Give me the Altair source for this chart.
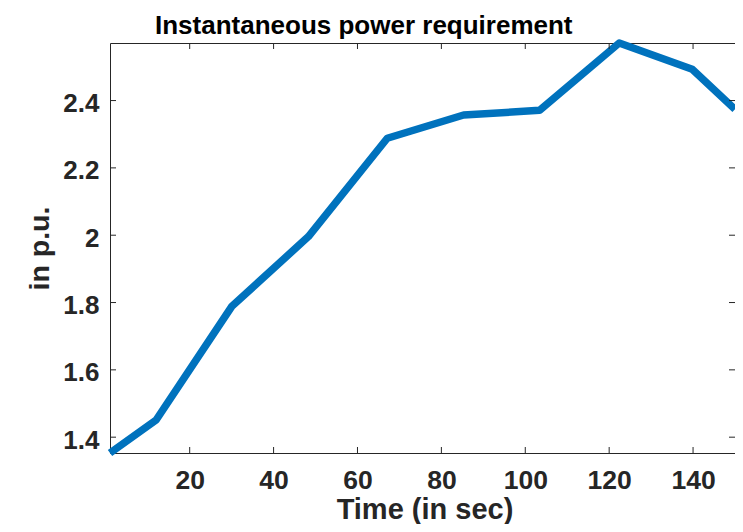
import altair as alt
import pandas as pd

# ---- data ----
time_s = [1, 12, 30, 48.3, 67.1, 85.3, 103.4, 122.4, 139.8, 150]
power_pu = [1.353, 1.451, 1.788, 1.996, 2.288, 2.357, 2.371, 2.571, 2.493, 2.374]
x_ticks = [20, 40, 60, 80, 100, 120, 140]
y_ticks = [1.4, 1.6, 1.8, 2.0, 2.2, 2.4]
x_domain = [1, 150]
y_domain = [1.353, 2.571]

W, H = 625, 410
FONT = "Liberation Sans"
INK = "#262626"
LINE = "#0072BD"

df = pd.DataFrame({"t": time_s, "p": power_pu})
xt = pd.DataFrame({"t": x_ticks})
yt = pd.DataFrame({"p": y_ticks})

xs = alt.Scale(domain=x_domain, nice=False, zero=False)
ys = alt.Scale(domain=y_domain, nice=False, zero=False)

x_axis = alt.Axis(
    values=x_ticks, title="Time (in sec)", domain=False, ticks=False, tickSize=0,
    grid=False, labelPadding=35, labelBaseline="alphabetic", labelFont=FONT,
    labelFontSize=26.5, labelFontWeight="bold", labelColor=INK, labelFlush=False,
    labelOverlap=False, titleFont=FONT, titleFontSize=29, titleFontWeight="bold",
    titleColor=INK, titleBaseline="alphabetic", titleY=65, titleX=W / 2 + 2,
    titleAlign="center",
)
y_axis = alt.Axis(
    values=y_ticks, format="~g", title="in p.u.", domain=False, ticks=False,
    tickSize=0, grid=False, labelPadding=11, labelBaseline="middle", labelOffset=3,
    labelFont=FONT, labelFontSize=26, labelFontWeight="bold", labelColor=INK,
    labelFlush=False, labelOverlap=False, titleFont=FONT, titleFontSize=28.5,
    titleFontWeight="bold", titleColor=INK, titleAngle=270, titleX=-62,
    titleY=H / 2, titleBaseline="alphabetic", titleAlign="center",
)

line = alt.Chart(df).mark_line(color=LINE, strokeWidth=7.5, strokeJoin="round").encode(
    x=alt.X("t:Q", scale=xs, axis=x_axis),
    y=alt.Y("p:Q", scale=ys, axis=y_axis),
)

tick_style = dict(color=INK, strokeWidth=1)
bottom = alt.Chart(xt).mark_rule(**tick_style).encode(
    x=alt.X("t:Q", scale=xs), y=alt.value(H), y2=alt.value(H - 6))
top = alt.Chart(xt).mark_rule(**tick_style).encode(
    x=alt.X("t:Q", scale=xs), y=alt.value(0), y2=alt.value(6))
left = alt.Chart(yt).mark_rule(**tick_style).encode(
    y=alt.Y("p:Q", scale=ys), x=alt.value(0), x2=alt.value(6))
right = alt.Chart(yt).mark_rule(**tick_style).encode(
    y=alt.Y("p:Q", scale=ys), x=alt.value(W), x2=alt.value(W - 6))

chart = alt.layer(line, bottom, top, left, right).properties(
    width=W,
    height=H,
    title=alt.Title(
        "Instantaneous power requirement", anchor="start", frame="group", dx=45,
        dy=32, offset=11, baseline="alphabetic", font=FONT, fontSize=26,
        fontWeight="bold", color="#000000",
    ),
    autosize=alt.AutoSizeParams(type="none"),
    padding={"left": 102, "top": 35, "right": 0, "bottom": 71},
).configure_view(stroke=INK, strokeWidth=1)

chart.save("out.html", embed_options={"renderer": "svg", "actions": False})
